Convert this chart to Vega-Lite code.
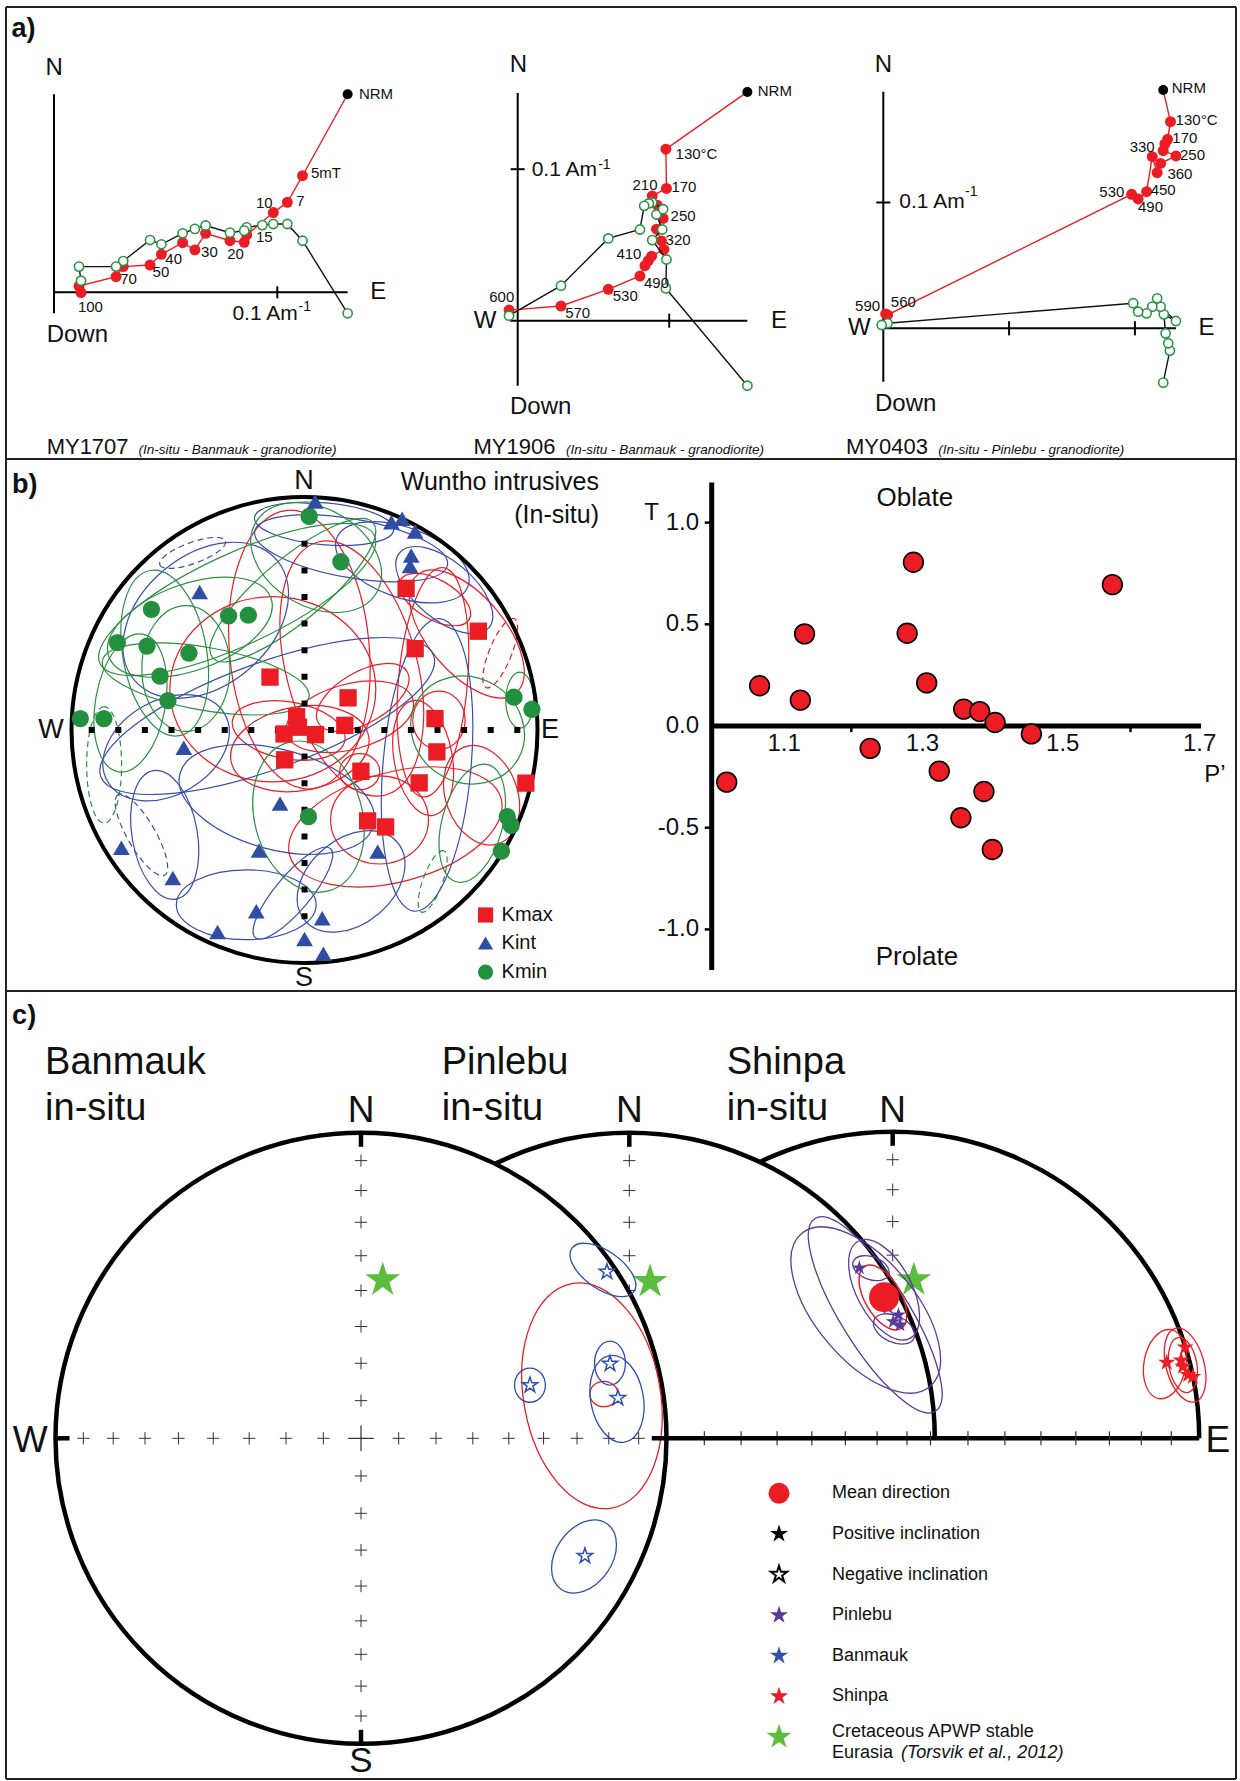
{
"$schema":"https://vega.github.io/schema/vega-lite/v6.json",
"padding":{"left":5,"top":6,"right":0,"bottom":0},
"spacing":0,
"bounds":"flush",
"config":{"view":{"stroke":null},"font":"Liberation Sans","text":{"color":"#111"}},
"datasets":{
"a1":[
{"c":"h","s":0,"x":0.1315,"y":0.0887},{"c":"h","s":1,"x":0.1113,"y":0.0522},{"c":"h","s":2,"x":0.1045,"y":0.0403},{"c":"h","s":3,"x":0.0982,"y":0.0357},{"c":"h","s":4,"x":0.0863,"y":0.0257},{"c":"h","s":5,"x":0.0852,"y":0.0224},{"c":"h","s":6,"x":0.0788,"y":0.0231},{"c":"h","s":7,"x":0.0679,"y":0.0264},{"c":"h","s":8,"x":0.0631,"y":0.0190},{"c":"h","s":9,"x":0.0576,"y":0.0222},{"c":"h","s":10,"x":0.0481,"y":0.0170},{"c":"h","s":11,"x":0.0430,"y":0.0122},{"c":"h","s":12,"x":0.0310,"y":0.0115},{"c":"h","s":13,"x":0.0278,"y":0.0070},{"c":"h","s":14,"x":0.0112,"y":0.0028},{"c":"h","s":15,"x":0.0121,"y":-0.0001},
{"c":"v","s":0,"x":0.1315,"y":-0.0094},{"c":"v","s":1,"x":0.1113,"y":0.0231},{"c":"v","s":2,"x":0.1045,"y":0.0306},{"c":"v","s":3,"x":0.0982,"y":0.0306},{"c":"v","s":4,"x":0.0933,"y":0.0301},{"c":"v","s":5,"x":0.0863,"y":0.0291},{"c":"v","s":6,"x":0.0852,"y":0.0276},{"c":"v","s":7,"x":0.0788,"y":0.0267},{"c":"v","s":8,"x":0.0679,"y":0.0299},{"c":"v","s":9,"x":0.0631,"y":0.0284},{"c":"v","s":10,"x":0.0576,"y":0.0264},{"c":"v","s":11,"x":0.0481,"y":0.0215},{"c":"v","s":12,"x":0.0430,"y":0.0234},{"c":"v","s":13,"x":0.0310,"y":0.0140},{"c":"v","s":14,"x":0.0278,"y":0.0115},{"c":"v","s":15,"x":0.0112,"y":0.0115},{"c":"v","s":16,"x":0.0121,"y":0.0052}
],
"a1t":[
{"k":"z","x":0.1442,"y":0.0887,"t":"NRM"},{"k":"z","x":0.1218,"y":0.0533,"t":"5mT"},{"k":"z","x":0.1103,"y":0.0410,"t":"7"},{"k":"z","x":0.0942,"y":0.0401,"t":"10"},{"k":"z","x":0.0942,"y":0.0246,"t":"15"},{"k":"z","x":0.0813,"y":0.0172,"t":"20"},{"k":"z","x":0.0696,"y":0.0179,"t":"30"},{"k":"z","x":0.0536,"y":0.0149,"t":"40"},{"k":"z","x":0.0479,"y":0.0093,"t":"50"},{"k":"z","x":0.0334,"y":0.0058,"t":"70"},{"k":"z","x":0.0163,"y":-0.0064,"t":"100"},
{"k":"ax","x":0.0001,"y":0.1003,"t":"N"},{"k":"ax","x":0.1452,"y":0,"t":"E"},{"k":"axl","x":-0.0033,"y":-0.0191,"t":"Down"},{"k":"unit","x":0.0799,"y":-0.0097,"t":"0.1 Am"},{"k":"sup","x":0.1095,"y":-0.0064,"t":"-1"},{"k":"cap","x":-0.0033,"y":-0.0691,"t":"MY1707"},{"k":"sub","x":0.0378,"y":-0.0706,"t":"(In-situ - Banmauk - granodiorite)"},{"k":"panel","x":-0.019,"y":0.1178,"t":"a)"}
],
"a2":[
{"c":"h","s":0,"x":0.1516,"y":0.1510},{"c":"h","s":1,"x":0.0978,"y":0.1132},{"c":"h","s":2,"x":0.0982,"y":0.0873},{"c":"h","s":3,"x":0.0888,"y":0.0824},{"c":"h","s":4,"x":0.0921,"y":0.0763},{"c":"h","s":5,"x":0.0960,"y":0.0675},{"c":"h","s":6,"x":0.0916,"y":0.0604},{"c":"h","s":7,"x":0.0949,"y":0.0527},{"c":"h","s":8,"x":0.0965,"y":0.0470},{"c":"h","s":9,"x":0.0884,"y":0.0426},{"c":"h","s":10,"x":0.0862,"y":0.0396},{"c":"h","s":11,"x":0.0840,"y":0.0363},{"c":"h","s":12,"x":0.0807,"y":0.0295},{"c":"h","s":13,"x":0.0598,"y":0.0207},{"c":"h","s":14,"x":0.0286,"y":0.0097},{"c":"h","s":15,"x":-0.0057,"y":0.0070},
{"c":"v","s":0,"x":0.1516,"y":-0.0429},{"c":"v","s":1,"x":0.0978,"y":0.0213},{"c":"v","s":2,"x":0.0982,"y":0.0404},{"c":"v","s":3,"x":0.0888,"y":0.0532},{"c":"v","s":4,"x":0.0954,"y":0.0602},{"c":"v","s":5,"x":0.0916,"y":0.0701},{"c":"v","s":6,"x":0.0960,"y":0.0736},{"c":"v","s":7,"x":0.0888,"y":0.0780},{"c":"v","s":8,"x":0.0866,"y":0.0774},{"c":"v","s":9,"x":0.0835,"y":0.0758},{"c":"v","s":10,"x":0.0807,"y":0.0602},{"c":"v","s":11,"x":0.0598,"y":0.0543},{"c":"v","s":12,"x":0.0286,"y":0.0231},{"c":"v","s":13,"x":-0.0057,"y":0.0033}
],
"a2t":[
{"k":"z","x":0.1697,"y":0.1516,"t":"NRM"},{"k":"z","x":0.1180,"y":0.1103,"t":"130°C"},{"k":"z","x":0.1097,"y":0.0884,"t":"170"},{"k":"z","x":0.0840,"y":0.0895,"t":"210"},{"k":"z","x":0.1092,"y":0.0690,"t":"250"},{"k":"z","x":0.1059,"y":0.0532,"t":"320"},{"k":"z","x":0.0734,"y":0.0437,"t":"410"},{"k":"z","x":0.0916,"y":0.0246,"t":"490"},{"k":"z","x":0.0710,"y":0.0165,"t":"530"},{"k":"z","x":0.0396,"y":0.0048,"t":"570"},{"k":"z","x":-0.0105,"y":0.0158,"t":"600"},
{"k":"ax","x":0.0004,"y":0.1686,"t":"N"},{"k":"ax","x":-0.0215,"y":0,"t":"W"},{"k":"ax","x":0.1725,"y":0,"t":"E"},{"k":"axl","x":-0.0051,"y":-0.0567,"t":"Down"},{"k":"unit","x":0.0092,"y":0.0998,"t":"0.1 Am"},{"k":"sup","x":0.0531,"y":0.1031,"t":"-1"},{"k":"cap","x":-0.0292,"y":-0.0831,"t":"MY1906"},{"k":"sub","x":0.0319,"y":-0.0853,"t":"(In-situ - Banmauk - granodiorite)"}
],
"a3":[
{"c":"h","s":0,"x":0.2225,"y":0.1894},{"c":"h","s":1,"x":0.2283,"y":0.1642},{"c":"h","s":2,"x":0.2260,"y":0.1502},{"c":"h","s":3,"x":0.2238,"y":0.1465},{"c":"h","s":4,"x":0.2225,"y":0.1412},{"c":"h","s":5,"x":0.2326,"y":0.1370},{"c":"h","s":6,"x":0.2204,"y":0.1311},{"c":"h","s":7,"x":0.2177,"y":0.1237},{"c":"h","s":8,"x":0.2138,"y":0.1364},{"c":"h","s":9,"x":0.2093,"y":0.1086},{"c":"h","s":10,"x":0.2026,"y":0.1028},{"c":"h","s":11,"x":0.1974,"y":0.1065},{"c":"h","s":12,"x":0.0034,"y":0.0106},{"c":"h","s":13,"x":0.0019,"y":0.0114},
{"c":"v","s":0,"x":0.2225,"y":-0.0432},{"c":"v","s":1,"x":0.2278,"y":-0.0177},{"c":"v","s":2,"x":0.2265,"y":-0.0119},{"c":"v","s":3,"x":0.2244,"y":-0.0040},{"c":"v","s":4,"x":0.2230,"y":0.0111},{"c":"v","s":5,"x":0.2326,"y":0.0058},{"c":"v","s":6,"x":0.2204,"y":0.0172},{"c":"v","s":7,"x":0.2177,"y":0.0238},{"c":"v","s":8,"x":0.2138,"y":0.0172},{"c":"v","s":9,"x":0.2093,"y":0.0119},{"c":"v","s":10,"x":0.2026,"y":0.0132},{"c":"v","s":11,"x":0.1987,"y":0.0199},{"c":"v","s":12,"x":0.0034,"y":0.0040},{"c":"v","s":13,"x":-0.0013,"y":0.0026}
],
"a3t":[
{"k":"z","x":0.2429,"y":0.1907,"t":"NRM"},{"k":"z","x":0.2490,"y":0.1656,"t":"130°C"},{"k":"z","x":0.2397,"y":0.1515,"t":"170"},{"k":"z","x":0.2058,"y":0.1444,"t":"330"},{"k":"z","x":0.2458,"y":0.1377,"t":"250"},{"k":"z","x":0.2358,"y":0.1224,"t":"360"},{"k":"z","x":0.2225,"y":0.1099,"t":"450"},{"k":"z","x":0.1817,"y":0.1086,"t":"530"},{"k":"z","x":0.2124,"y":0.0967,"t":"490"},{"k":"z","x":-0.0125,"y":0.0177,"t":"590"},{"k":"z","x":0.0159,"y":0.0212,"t":"560"},
{"k":"ax","x":0,"y":0.2093,"t":"N"},{"k":"ax","x":-0.0191,"y":0,"t":"W"},{"k":"ax","x":0.2570,"y":0,"t":"E"},{"k":"axl","x":-0.0066,"y":-0.0601,"t":"Down"},{"k":"unit","x":0.0127,"y":0.1001,"t":"0.1 Am"},{"k":"sup","x":0.0650,"y":0.1086,"t":"-1"},{"k":"cap","x":-0.0297,"y":-0.0940,"t":"MY0403"},{"k":"sub","x":0.0437,"y":-0.0967,"t":"(In-situ - Pinlebu - granodiorite)"}
],
"bEll":[
{"k":"Kmax","x":-0.022,"y":0.345,"a":0.6,"q":"0.5","ang":85,"up":false},
{"k":"Kmax","x":0.203,"y":0.264,"a":0.562,"q":"0.5","ang":75,"up":false},
{"k":"Kmax","x":-0.136,"y":0.175,"a":0.442,"q":"0.9","ang":0,"up":false},
{"k":"Kmax","x":0.551,"y":0.205,"a":0.494,"q":"0.3","ang":95,"up":false},
{"k":"Kmax","x":0.696,"y":0.412,"a":0.33,"q":"0.5","ang":50,"up":false},
{"k":"Kmax","x":0.195,"y":0.057,"a":0.28,"q":"0.5","ang":-15,"up":false},
{"k":"Kmax","x":-0.068,"y":-0.002,"a":0.245,"q":"0.5","ang":10,"up":false},
{"k":"Kmax","x":0.237,"y":-0.179,"a":0.086,"q":"0.9","ang":0,"up":false},
{"k":"Kmax","x":0.509,"y":-0.12,"a":0.25,"q":"0.5","ang":80,"up":false},
{"k":"Kmax","x":0.322,"y":-0.386,"a":0.21,"q":"0.9","ang":0,"up":false},
{"k":"Kmax","x":0.39,"y":-0.416,"a":0.47,"q":"0.5","ang":-15,"up":false},
{"k":"Kmax","x":0.76,"y":-0.28,"a":0.22,"q":"0.7","ang":70,"up":false},
{"k":"Kmax","x":0.577,"y":0.042,"a":0.125,"q":"0.9","ang":90,"up":false},
{"k":"Kmax","x":0.56,"y":0.56,"a":0.17,"q":"0.5","ang":30,"up":false},
{"k":"Kmax","x":0.25,"y":0.14,"a":0.22,"q":"0.5","ang":-30,"up":false},
{"k":"Kmax","x":-0.02,"y":-0.08,"a":0.3,"q":"0.6","ang":-10,"up":false},
{"k":"Kmax","x":0.84,"y":0.33,"a":0.16,"q":"0.3","ang":112,"up":true},
{"k":"Kint","x":0.42,"y":0.72,"a":0.3,"q":"0.5","ang":20,"up":false},
{"k":"Kint","x":0.2,"y":0.78,"a":0.42,"q":"0.3","ang":10,"up":false},
{"k":"Kint","x":-0.424,"y":0.471,"a":0.4,"q":"0.7","ang":-40,"up":false},
{"k":"Kint","x":-0.16,"y":0.06,"a":0.76,"q":"0.3","ang":-20,"up":false},
{"k":"Kint","x":-0.25,"y":-0.75,"a":0.3,"q":"0.5","ang":0,"up":false},
{"k":"Kint","x":-0.6,"y":-0.45,"a":0.28,"q":"0.5","ang":80,"up":false},
{"k":"Kint","x":-0.119,"y":-0.298,"a":0.43,"q":"0.5","ang":15,"up":false},
{"k":"Kint","x":0.2,"y":-0.65,"a":0.26,"q":"0.7","ang":-40,"up":false},
{"k":"Kint","x":0.526,"y":-0.15,"a":0.63,"q":"0.3","ang":95,"up":false},
{"k":"Kint","x":0.084,"y":0.885,"a":0.3,"q":"0.3","ang":5,"up":false},
{"k":"Kint","x":-0.594,"y":-0.076,"a":0.29,"q":"0.7","ang":-30,"up":false},
{"k":"Kint","x":-0.05,"y":-0.7,"a":0.25,"q":"0.3","ang":-50,"up":false},
{"k":"Kint","x":0.6,"y":0.6,"a":0.25,"q":"0.5","ang":40,"up":false},
{"k":"Kint","x":-0.48,"y":0.76,"a":0.15,"q":"0.3","ang":-20,"up":true},
{"k":"Kint","x":-0.7,"y":-0.45,"a":0.2,"q":"0.3","ang":60,"up":true},
{"k":"Kmin","x":-0.6,"y":0.33,"a":0.36,"q":"0.5","ang":80,"up":false},
{"k":"Kmin","x":-0.509,"y":0.264,"a":0.27,"q":"0.7","ang":90,"up":false},
{"k":"Kmin","x":-0.747,"y":0.116,"a":0.3,"q":"0.5","ang":100,"up":false},
{"k":"Kmin","x":-0.289,"y":0.56,"a":0.65,"q":"0.3","ang":-25,"up":false},
{"k":"Kmin","x":0.05,"y":0.74,"a":0.3,"q":"0.7","ang":30,"up":false},
{"k":"Kmin","x":-0.424,"y":0.219,"a":0.45,"q":"0.3","ang":10,"up":false},
{"k":"Kmin","x":0.017,"y":-0.372,"a":0.33,"q":"0.7","ang":75,"up":false},
{"k":"Kmin","x":0.7,"y":0.0,"a":0.25,"q":"0.9","ang":30,"up":false},
{"k":"Kmin","x":0.924,"y":0.128,"a":0.12,"q":"0.5","ang":90,"up":false},
{"k":"Kmin","x":0.72,"y":-0.4,"a":0.26,"q":"0.5","ang":105,"up":false},
{"k":"Kmin","x":-0.492,"y":0.441,"a":0.37,"q":"0.5","ang":-20,"up":false},
{"k":"Kmin","x":-0.05,"y":0.6,"a":0.45,"q":"0.3","ang":-40,"up":false},
{"k":"Kmin","x":-0.86,"y":-0.15,"a":0.25,"q":"0.3","ang":90,"up":true},
{"k":"Kmin","x":0.55,"y":-0.65,"a":0.14,"q":"0.3","ang":110,"up":true}
],
"bK":[
{"k":"Kmax","x":0.436,"y":0.608},{"k":"Kmax","x":0.746,"y":0.424},{"k":"Kmax","x":0.475,"y":0.349},{"k":"Kmax","x":-0.148,"y":0.227},{"k":"Kmax","x":0.187,"y":0.138},{"k":"Kmax","x":-0.034,"y":0.057},{"k":"Kmax","x":0.173,"y":0.02},{"k":"Kmax","x":0.56,"y":0.049},{"k":"Kmax","x":-0.088,"y":-0.017},{"k":"Kmax","x":0.047,"y":-0.02},{"k":"Kmax","x":-0.026,"y":0.012},{"k":"Kmax","x":0.568,"y":-0.094},{"k":"Kmax","x":-0.085,"y":-0.128},{"k":"Kmax","x":0.242,"y":-0.177},{"k":"Kmax","x":0.492,"y":-0.227},{"k":"Kmax","x":0.95,"y":-0.228},{"k":"Kmax","x":0.271,"y":-0.39},{"k":"Kmax","x":0.348,"y":-0.416},
{"k":"Kint","x":0.046,"y":0.981},{"k":"Kint","x":0.373,"y":0.892},{"k":"Kint","x":0.419,"y":0.907},{"k":"Kint","x":0.475,"y":0.852},{"k":"Kint","x":0.458,"y":0.749},{"k":"Kint","x":0.453,"y":0.704},{"k":"Kint","x":-0.45,"y":0.592},{"k":"Kint","x":-0.518,"y":-0.076},{"k":"Kint","x":-0.105,"y":-0.316},{"k":"Kint","x":-0.786,"y":-0.505},{"k":"Kint","x":-0.195,"y":-0.517},{"k":"Kint","x":0.314,"y":-0.522},{"k":"Kint","x":-0.565,"y":-0.635},{"k":"Kint","x":-0.207,"y":-0.778},{"k":"Kint","x":0.076,"y":-0.808},{"k":"Kint","x":-0.373,"y":-0.867},{"k":"Kint","x":0.0,"y":-0.897},{"k":"Kint","x":0.081,"y":-0.96},
{"k":"Kmin","x":0.02,"y":0.917},{"k":"Kmin","x":0.156,"y":0.722},{"k":"Kmin","x":-0.657,"y":0.518},{"k":"Kmin","x":-0.326,"y":0.49},{"k":"Kmin","x":-0.241,"y":0.493},{"k":"Kmin","x":-0.803,"y":0.375},{"k":"Kmin","x":-0.676,"y":0.36},{"k":"Kmin","x":-0.496,"y":0.33},{"k":"Kmin","x":-0.62,"y":0.231},{"k":"Kmin","x":-0.586,"y":0.126},{"k":"Kmin","x":-0.962,"y":0.049},{"k":"Kmin","x":-0.861,"y":0.049},{"k":"Kmin","x":0.899,"y":0.141},{"k":"Kmin","x":0.976,"y":0.089},{"k":"Kmin","x":0.017,"y":-0.372},{"k":"Kmin","x":0.87,"y":-0.372},{"k":"Kmin","x":0.887,"y":-0.409},{"k":"Kmin","x":0.845,"y":-0.52}
],
"bLeg":[{"k":"Kmax","x":0.777,"y":-0.794},{"k":"Kint","x":0.777,"y":-0.914},{"k":"Kmin","x":0.777,"y":-1.039}],
"tp":[
{"P":1.0215,"T":-0.276},{"P":1.0686,"T":0.198},{"P":1.127,"T":0.127},{"P":1.133,"T":0.453},{"P":1.227,"T":-0.11},{"P":1.28,"T":0.456},{"P":1.289,"T":0.805},{"P":1.308,"T":0.212},{"P":1.326,"T":-0.222},{"P":1.361,"T":0.083},{"P":1.357,"T":-0.451},{"P":1.384,"T":0.071},{"P":1.39,"T":-0.322},{"P":1.406,"T":0.017},{"P":1.402,"T":-0.607},{"P":1.458,"T":-0.039},{"P":1.574,"T":0.695}
],
"cNpl":[{"x":0,"y":0.1233},{"x":0,"y":0.2456},{"x":0,"y":0.366},{"x":0,"y":0.4837},{"x":0,"y":0.5976},{"x":0,"y":0.7071},{"x":0,"y":0.8111},{"x":0,"y":0.909}],
"cBpl":[
{"x":0,"y":0.1233},{"x":0,"y":0.2456},{"x":0,"y":0.366},{"x":0,"y":0.4837},{"x":0,"y":0.5976},{"x":0,"y":0.7071},{"x":0,"y":0.8111},{"x":0,"y":0.909},
{"x":0,"y":-0.1233},{"x":0,"y":-0.2456},{"x":0,"y":-0.366},{"x":0,"y":-0.4837},{"x":0,"y":-0.5976},{"x":0,"y":-0.7071},{"x":0,"y":-0.8111},{"x":0,"y":-0.909},
{"x":0.1233,"y":0},{"x":0.2456,"y":0},{"x":0.366,"y":0},{"x":0.4837,"y":0},{"x":0.5976,"y":0},{"x":0.7071,"y":0},{"x":0.8111,"y":0},{"x":0.909,"y":0},
{"x":-0.1233,"y":0},{"x":-0.2456,"y":0},{"x":-0.366,"y":0},{"x":-0.4837,"y":0},{"x":-0.5976,"y":0},{"x":-0.7071,"y":0},{"x":-0.8111,"y":0},{"x":-0.909,"y":0}
],
"cPEt":[{"x":0.2456,"y":0},{"x":0.366,"y":0},{"x":0.4837,"y":0},{"x":0.5976,"y":0},{"x":0.7071,"y":0},{"x":0.8111,"y":0},{"x":0.909,"y":0}],
"cSEt":[{"x":0.1233,"y":0},{"x":0.2456,"y":0},{"x":0.366,"y":0},{"x":0.4837,"y":0},{"x":0.5976,"y":0},{"x":0.7071,"y":0},{"x":0.8111,"y":0},{"x":0.909,"y":0}],
"cBell":[{"x":0.792,"y":0.551,"a":0.124,"q":"0.5","ang":35},{"x":0.553,"y":0.174,"a":0.056,"q":"0.9","ang":90},{"x":0.815,"y":0.246,"a":0.072,"q":"0.7","ang":90},{"x":0.838,"y":0.129,"a":0.144,"q":"0.6","ang":80},{"x":0.73,"y":-0.387,"a":0.131,"q":"0.7","ang":-55}],
"cBmell":[{"x":0.756,"y":0.139,"a":0.373,"q":"0.6","ang":80},{"x":0.795,"y":0.145,"a":0.046,"q":"0.9","ang":0}],
"cBst":[{"x":0.805,"y":0.545},{"x":0.553,"y":0.174},{"x":0.815,"y":0.244},{"x":0.841,"y":0.132},{"x":0.733,"y":-0.385}],
"cPell":[{"x":0.805,"y":0.404,"a":0.372,"q":"0.3","ang":58},{"x":0.774,"y":0.42,"a":0.327,"q":"0.5","ang":50},{"x":0.834,"y":0.486,"a":0.18,"q":"0.5","ang":62},{"x":0.867,"y":0.358,"a":0.072,"q":"0.6","ang":25},{"x":0.791,"y":0.557,"a":0.062,"q":"0.6","ang":20}],
"cPmell":[{"x":0.83,"y":0.461,"a":0.118,"q":"0.5","ang":60}],
"cPst":[{"x":0.753,"y":0.558},{"x":0.881,"y":0.404},{"x":0.864,"y":0.382},{"x":0.886,"y":0.371},{"x":0.847,"y":0.428}],
"cSell":[{"x":0.888,"y":0.242,"a":0.114,"q":"0.6","ang":100},{"x":0.954,"y":0.239,"a":0.124,"q":"0.5","ang":75},{"x":0.947,"y":0.239,"a":0.091,"q":"0.5","ang":80}],
"cSst":[{"x":0.954,"y":0.297},{"x":0.894,"y":0.247},{"x":0.941,"y":0.255},{"x":0.964,"y":0.207},{"x":0.979,"y":0.201},{"x":0.947,"y":0.234}],
"legText":[{"row":0,"t":"Mean direction"},{"row":1,"t":"Positive inclination"},{"row":2,"t":"Negative inclination"},{"row":3,"t":"Pinlebu"},{"row":4,"t":"Banmauk"},{"row":5,"t":"Shinpa"},{"row":5.87,"t":"Cretaceous APWP stable"},{"row":6.4,"t":"Eurasia"}],
"legStars":[{"row":1,"item":"Positive inclination"},{"row":3,"item":"Pinlebu"},{"row":4,"item":"Banmauk"},{"row":5,"item":"Shinpa"}]
},
"vconcat":[
{"width":1230,"height":452,
"resolve":{"scale":{"x":"independent","y":"independent"}},
"layer":[
{"encoding":{"x":{"field":"x","type":"quantitative","scale":{"domain":[-0.021496,0.529332],"nice":false,"zero":false},"axis":null},"y":{"field":"y","type":"quantitative","scale":{"domain":[-0.074653,0.127765],"nice":false,"zero":false},"axis":null}},
"layer":[
{"data":{"values":[{"x":-0.021496,"y":-0.074653,"x2":-0.021496,"y2":0.127765},{"x":-0.021496,"y":0.127765,"x2":0.529332,"y2":0.127765}]},"mark":{"type":"rule","color":"#222","strokeWidth":2},"encoding":{"x2":{"field":"x2"},"y2":{"field":"y2"}}},
{"data":{"values":[{"x":0,"y":-0.0094,"x2":0,"y2":0.0887},{"x":0,"y":0,"x2":0.1315,"y2":0},{"x":0.1,"y":-0.0027,"x2":0.1,"y2":0.0027}]},"mark":{"type":"rule","color":"#000","strokeWidth":2},"encoding":{"x2":{"field":"x2"},"y2":{"field":"y2"}}},
{"data":{"name":"a1"},"transform":[{"filter":"datum.c=='v'"}],"mark":{"type":"line","color":"#111","strokeWidth":1.4},"encoding":{"order":{"field":"s","type":"quantitative"}}},
{"data":{"name":"a1"},"transform":[{"filter":"datum.c=='h'"}],"mark":{"type":"line","color":"#EC1C24","strokeWidth":1.4},"encoding":{"order":{"field":"s","type":"quantitative"}}},
{"data":{"name":"a1"},"transform":[{"filter":"datum.c=='h' && datum.s>0"}],"mark":{"type":"point","shape":"circle","filled":true,"color":"#EC1C24","size":120,"opacity":1}},
{"data":{"name":"a1"},"transform":[{"filter":"datum.c=='h' && datum.s==0"}],"mark":{"type":"point","shape":"circle","filled":true,"color":"#000","size":100,"opacity":1}},
{"data":{"name":"a1"},"transform":[{"filter":"datum.c=='v'"}],"mark":{"type":"point","shape":"circle","filled":true,"fill":"#fff","stroke":"#2A9444","strokeWidth":1.6,"size":85,"opacity":1}},
{"data":{"name":"a1t"},"transform":[{"filter":"datum.k=='z'"}],"mark":{"type":"text","fontSize":15,"align":"center","baseline":"middle"},"encoding":{"text":{"field":"t"}}},
{"data":{"name":"a1t"},"transform":[{"filter":"datum.k=='ax'"}],"mark":{"type":"text","fontSize":24,"align":"center","baseline":"middle"},"encoding":{"text":{"field":"t"}}},
{"data":{"name":"a1t"},"transform":[{"filter":"datum.k=='axl'"}],"mark":{"type":"text","fontSize":24,"align":"left","baseline":"middle"},"encoding":{"text":{"field":"t"}}},
{"data":{"name":"a1t"},"transform":[{"filter":"datum.k=='unit'"}],"mark":{"type":"text","fontSize":21,"align":"left","baseline":"middle"},"encoding":{"text":{"field":"t"}}},
{"data":{"name":"a1t"},"transform":[{"filter":"datum.k=='sup'"}],"mark":{"type":"text","fontSize":14,"align":"left","baseline":"middle"},"encoding":{"text":{"field":"t"}}},
{"data":{"name":"a1t"},"transform":[{"filter":"datum.k=='cap'"}],"mark":{"type":"text","fontSize":22,"align":"left","baseline":"middle"},"encoding":{"text":{"field":"t"}}},
{"data":{"name":"a1t"},"transform":[{"filter":"datum.k=='sub'"}],"mark":{"type":"text","fontSize":13.5,"fontStyle":"italic","align":"left","baseline":"middle"},"encoding":{"text":{"field":"t"}}},
{"data":{"name":"a1t"},"transform":[{"filter":"datum.k=='panel'"}],"mark":{"type":"text","fontSize":27,"fontWeight":"bold","align":"left","baseline":"middle"},"encoding":{"text":{"field":"t"}}}
]},
{"encoding":{"x":{"field":"x","type":"quantitative","scale":{"domain":[-0.337756,0.474125],"nice":false,"zero":false},"axis":null},"y":{"field":"y","type":"quantitative","scale":{"domain":[-0.091287,0.207063],"nice":false,"zero":false},"axis":null}},
"layer":[
{"data":{"values":[{"x":0,"y":-0.0429,"x2":0,"y2":0.1503},{"x":-0.0051,"y":0,"x2":0.1516,"y2":0},{"x":0.1,"y":-0.0046,"x2":0.1,"y2":0.0046},{"x":-0.0046,"y":0.1,"x2":0.0046,"y2":0.1}]},"mark":{"type":"rule","color":"#000","strokeWidth":2},"encoding":{"x2":{"field":"x2"},"y2":{"field":"y2"}}},
{"data":{"name":"a2"},"transform":[{"filter":"datum.c=='h'"}],"mark":{"type":"line","color":"#EC1C24","strokeWidth":1.4},"encoding":{"order":{"field":"s","type":"quantitative"}}},
{"data":{"name":"a2"},"transform":[{"filter":"datum.c=='h' && datum.s>0"}],"mark":{"type":"point","shape":"circle","filled":true,"color":"#EC1C24","size":120,"opacity":1}},
{"data":{"name":"a2"},"transform":[{"filter":"datum.c=='h' && datum.s==0"}],"mark":{"type":"point","shape":"circle","filled":true,"color":"#000","size":100,"opacity":1}},
{"data":{"name":"a2"},"transform":[{"filter":"datum.c=='v'"}],"mark":{"type":"line","color":"#111","strokeWidth":1.4},"encoding":{"order":{"field":"s","type":"quantitative"}}},
{"data":{"name":"a2"},"transform":[{"filter":"datum.c=='v'"}],"mark":{"type":"point","shape":"circle","filled":true,"fill":"#fff","stroke":"#2A9444","strokeWidth":1.6,"size":85,"opacity":1}},
{"data":{"name":"a2t"},"transform":[{"filter":"datum.k=='z'"}],"mark":{"type":"text","fontSize":15,"align":"center","baseline":"middle"},"encoding":{"text":{"field":"t"}}},
{"data":{"name":"a2t"},"transform":[{"filter":"datum.k=='ax'"}],"mark":{"type":"text","fontSize":24,"align":"center","baseline":"middle"},"encoding":{"text":{"field":"t"}}},
{"data":{"name":"a2t"},"transform":[{"filter":"datum.k=='axl'"}],"mark":{"type":"text","fontSize":24,"align":"left","baseline":"middle"},"encoding":{"text":{"field":"t"}}},
{"data":{"name":"a2t"},"transform":[{"filter":"datum.k=='unit'"}],"mark":{"type":"text","fontSize":21,"align":"left","baseline":"middle"},"encoding":{"text":{"field":"t"}}},
{"data":{"name":"a2t"},"transform":[{"filter":"datum.k=='sup'"}],"mark":{"type":"text","fontSize":14,"align":"left","baseline":"middle"},"encoding":{"text":{"field":"t"}}},
{"data":{"name":"a2t"},"transform":[{"filter":"datum.k=='cap'"}],"mark":{"type":"text","fontSize":22,"align":"left","baseline":"middle"},"encoding":{"text":{"field":"t"}}},
{"data":{"name":"a2t"},"transform":[{"filter":"datum.k=='sub'"}],"mark":{"type":"text","fontSize":13.5,"fontStyle":"italic","align":"left","baseline":"middle"},"encoding":{"text":{"field":"t"}}}
]},
{"encoding":{"x":{"field":"x","type":"quantitative","scale":{"domain":[-0.697377,0.280366],"nice":false,"zero":false},"axis":null},"y":{"field":"y","type":"quantitative","scale":{"domain":[-0.103895,0.255405],"nice":false,"zero":false},"axis":null}},
"layer":[
{"data":{"values":[{"x":0.280366,"y":-0.103895,"x2":0.280366,"y2":0.255405}]},"mark":{"type":"rule","color":"#222","strokeWidth":2},"encoding":{"x2":{"field":"x2"},"y2":{"field":"y2"}}},
{"data":{"values":[{"x":0,"y":-0.0424,"x2":0,"y2":0.1881},{"x":0,"y":0,"x2":0.2326,"y2":0},{"x":0.1,"y":-0.0056,"x2":0.1,"y2":0.0056},{"x":0.2,"y":-0.0056,"x2":0.2,"y2":0.0056},{"x":-0.0056,"y":0.1,"x2":0.0056,"y2":0.1}]},"mark":{"type":"rule","color":"#000","strokeWidth":2},"encoding":{"x2":{"field":"x2"},"y2":{"field":"y2"}}},
{"data":{"name":"a3"},"transform":[{"filter":"datum.c=='h'"}],"mark":{"type":"line","color":"#EC1C24","strokeWidth":1.4},"encoding":{"order":{"field":"s","type":"quantitative"}}},
{"data":{"name":"a3"},"transform":[{"filter":"datum.c=='h' && datum.s>0"}],"mark":{"type":"point","shape":"circle","filled":true,"color":"#EC1C24","size":120,"opacity":1}},
{"data":{"name":"a3"},"transform":[{"filter":"datum.c=='h' && datum.s==0"}],"mark":{"type":"point","shape":"circle","filled":true,"color":"#000","size":100,"opacity":1}},
{"data":{"name":"a3"},"transform":[{"filter":"datum.c=='v'"}],"mark":{"type":"line","color":"#111","strokeWidth":1.4},"encoding":{"order":{"field":"s","type":"quantitative"}}},
{"data":{"name":"a3"},"transform":[{"filter":"datum.c=='v'"}],"mark":{"type":"point","shape":"circle","filled":true,"fill":"#fff","stroke":"#2A9444","strokeWidth":1.6,"size":85,"opacity":1}},
{"data":{"name":"a3t"},"transform":[{"filter":"datum.k=='z'"}],"mark":{"type":"text","fontSize":15,"align":"center","baseline":"middle"},"encoding":{"text":{"field":"t"}}},
{"data":{"name":"a3t"},"transform":[{"filter":"datum.k=='ax'"}],"mark":{"type":"text","fontSize":24,"align":"center","baseline":"middle"},"encoding":{"text":{"field":"t"}}},
{"data":{"name":"a3t"},"transform":[{"filter":"datum.k=='axl'"}],"mark":{"type":"text","fontSize":24,"align":"left","baseline":"middle"},"encoding":{"text":{"field":"t"}}},
{"data":{"name":"a3t"},"transform":[{"filter":"datum.k=='unit'"}],"mark":{"type":"text","fontSize":21,"align":"left","baseline":"middle"},"encoding":{"text":{"field":"t"}}},
{"data":{"name":"a3t"},"transform":[{"filter":"datum.k=='sup'"}],"mark":{"type":"text","fontSize":14,"align":"left","baseline":"middle"},"encoding":{"text":{"field":"t"}}},
{"data":{"name":"a3t"},"transform":[{"filter":"datum.k=='cap'"}],"mark":{"type":"text","fontSize":22,"align":"left","baseline":"middle"},"encoding":{"text":{"field":"t"}}},
{"data":{"name":"a3t"},"transform":[{"filter":"datum.k=='sub'"}],"mark":{"type":"text","fontSize":13.5,"fontStyle":"italic","align":"left","baseline":"middle"},"encoding":{"text":{"field":"t"}}}
]}
]},
{"width":1230,"height":532,
"resolve":{"scale":{"x":"independent","y":"independent","size":"independent","shape":"independent","angle":"independent","color":"independent"}},
"layer":[
{"encoding":{"x":{"field":"x","type":"quantitative","scale":{"domain":[-1.28112,3.99776],"nice":false,"zero":false},"axis":null},"y":{"field":"y","type":"quantitative","scale":{"domain":[-1.12017,1.16309],"nice":false,"zero":false},"axis":null}},
"layer":[
{"data":{"name":"bEll"},"transform":[{"filter":"!datum.up"}],"mark":{"type":"point","filled":false,"strokeWidth":1.2,"opacity":1},"encoding":{
 "color":{"field":"k","type":"nominal","scale":{"domain":["Kmax","Kint","Kmin"],"range":["#EC1C24","#3A4DAA","#2B8F3F"]},"legend":null},
 "shape":{"field":"q","type":"nominal","scale":{"domain":["0.3","0.5","0.6","0.7","0.9"],"range":["M-1,0A1,0.3 0 1,0 1,0A1,0.3 0 1,0 -1,0Z","M-1,0A1,0.5 0 1,0 1,0A1,0.5 0 1,0 -1,0Z","M-1,0A1,0.6 0 1,0 1,0A1,0.6 0 1,0 -1,0Z","M-1,0A1,0.7 0 1,0 1,0A1,0.7 0 1,0 -1,0Z","M-1,0A1,0.9 0 1,0 1,0A1,0.9 0 1,0 -1,0Z"]},"legend":null},
 "size":{"field":"a","type":"quantitative","scale":{"type":"pow","exponent":2,"domain":[0,1],"range":[0,217156]},"legend":null},
 "angle":{"field":"ang","type":"quantitative","scale":{"domain":[-180,180],"range":[-180,180]},"legend":null}}},
{"data":{"name":"bEll"},"transform":[{"filter":"datum.up"}],"mark":{"type":"point","filled":false,"strokeWidth":1.2,"strokeDash":[6,4],"opacity":1},"encoding":{
 "color":{"field":"k","type":"nominal","scale":{"domain":["Kmax","Kint","Kmin"],"range":["#EC1C24","#3A4DAA","#2B8F3F"]},"legend":null},
 "shape":{"field":"q","type":"nominal","scale":{"domain":["0.3","0.5","0.6","0.7","0.9"],"range":["M-1,0A1,0.3 0 1,0 1,0A1,0.3 0 1,0 -1,0Z","M-1,0A1,0.5 0 1,0 1,0A1,0.5 0 1,0 -1,0Z","M-1,0A1,0.6 0 1,0 1,0A1,0.6 0 1,0 -1,0Z","M-1,0A1,0.7 0 1,0 1,0A1,0.7 0 1,0 -1,0Z","M-1,0A1,0.9 0 1,0 1,0A1,0.9 0 1,0 -1,0Z"]},"legend":null},
 "size":{"field":"a","type":"quantitative","scale":{"type":"pow","exponent":2,"domain":[0,1],"range":[0,217156]},"legend":null},
 "angle":{"field":"ang","type":"quantitative","scale":{"domain":[-180,180],"range":[-180,180]},"legend":null}}},
{"data":{"values":[{"x":0,"y":0}]},"mark":{"type":"point","shape":"circle","filled":false,"color":"#000","strokeWidth":4,"size":217156,"opacity":1}},
{"data":{"values":[{"x":-1,"y":0,"x2":1,"y2":0},{"x":0,"y":-1,"x2":0,"y2":1}]},"mark":{"type":"rule","color":"#000","strokeWidth":6,"strokeDash":[6,20.6],"strokeDashOffset":9.4},"encoding":{"x2":{"field":"x2"},"y2":{"field":"y2"}}},
{"data":{"name":"bK"},"transform":[{"filter":"datum.k=='Kmin'"}],"mark":{"type":"point","shape":"circle","filled":true,"color":"#239040","size":300,"opacity":1}},
{"data":{"name":"bK"},"transform":[{"filter":"datum.k=='Kint'"}],"mark":{"type":"point","shape":"triangle-up","filled":true,"color":"#2F4DA3","size":280,"opacity":1}},
{"data":{"name":"bK"},"transform":[{"filter":"datum.k=='Kmax'"}],"mark":{"type":"point","shape":"square","filled":true,"color":"#EC1C24","size":300,"opacity":1}},
{"data":{"values":[{"x":-0.002,"y":1.069,"t":"N"},{"x":-0.002,"y":-1.064,"t":"S"},{"x":-1.088,"y":0,"t":"W"},{"x":1.054,"y":0,"t":"E"}]},"mark":{"type":"text","fontSize":27,"align":"center","baseline":"middle"},"encoding":{"text":{"field":"t"}}},
{"data":{"values":[{"x":1.264,"y":1.064,"t":"Wuntho intrusives"},{"x":1.264,"y":0.923,"t":"(In-situ)"}]},"mark":{"type":"text","fontSize":25,"align":"right","baseline":"middle"},"encoding":{"text":{"field":"t"}}},
{"data":{"values":[{"x":-1.255,"y":1.052,"t":"b)"}]},"mark":{"type":"text","fontSize":27,"fontWeight":"bold","align":"left","baseline":"middle"},"encoding":{"text":{"field":"t"}}},
{"data":{"name":"bLeg"},"transform":[{"filter":"datum.k=='Kmax'"}],"mark":{"type":"point","shape":"square","filled":true,"color":"#EC1C24","size":230,"opacity":1}},
{"data":{"name":"bLeg"},"transform":[{"filter":"datum.k=='Kint'"}],"mark":{"type":"point","shape":"triangle-up","filled":true,"color":"#2F4DA3","size":230,"opacity":1}},
{"data":{"name":"bLeg"},"transform":[{"filter":"datum.k=='Kmin'"}],"mark":{"type":"point","shape":"circle","filled":true,"color":"#239040","size":230,"opacity":1}},
{"data":{"name":"bLeg"},"mark":{"type":"text","fontSize":20,"align":"left","baseline":"middle","dx":16},"encoding":{"text":{"field":"k"}}},
{"data":{"values":[{"x":-1.28112,"y":-1.12017,"x2":-1.28112,"y2":1.16309},{"x":-1.28112,"y":1.16309,"x2":3.99776,"y2":1.16309}]},"mark":{"type":"rule","color":"#222","strokeWidth":2},"encoding":{"x2":{"field":"x2"},"y2":{"field":"y2"}}}
]},
{"encoding":{"x":{"field":"P","type":"quantitative","scale":{"domain":[-0.011032,1.751146],"nice":false,"zero":false},"axis":null},"y":{"field":"T","type":"quantitative","scale":{"domain":[-1.30285,1.31268],"nice":false,"zero":false},"axis":null}},
"layer":[
{"data":{"values":[{"P":1.751146,"T":-1.30285,"P2":1.751146,"T2":1.31268}]},"mark":{"type":"rule","color":"#222","strokeWidth":2},"encoding":{"x2":{"field":"P2"},"y2":{"field":"T2"}}},
{"data":{"values":[{"P":1,"T":-1.199,"P2":1,"T2":1.197},{"P":1,"T":0,"P2":1.701,"T2":0}]},"mark":{"type":"rule","color":"#000","strokeWidth":5},"encoding":{"x2":{"field":"P2"},"y2":{"field":"T2"}}},
{"data":{"values":[{"P":0.99,"T":1,"P2":1,"T2":1},{"P":0.99,"T":0.5,"P2":1,"T2":0.5},{"P":0.99,"T":-0.5,"P2":1,"T2":-0.5},{"P":0.99,"T":-1,"P2":1,"T2":-1},{"P":1.2,"T":0,"P2":1.2,"T2":-0.03},{"P":1.4,"T":0,"P2":1.4,"T2":-0.03},{"P":1.6,"T":0,"P2":1.6,"T2":-0.03}]},"mark":{"type":"rule","color":"#000","strokeWidth":2.5},"encoding":{"x2":{"field":"P2"},"y2":{"field":"T2"}}},
{"data":{"name":"tp"},"mark":{"type":"point","shape":"circle","filled":true,"fill":"#EC1C24","stroke":"#000","strokeWidth":1.6,"size":390,"opacity":1}},
{"data":{"values":[{"P":0.982,"T":1,"t":"1.0"},{"P":0.982,"T":0.5,"t":"0.5"},{"P":0.982,"T":0,"t":"0.0"},{"P":0.982,"T":-0.5,"t":"-0.5"},{"P":0.982,"T":-1,"t":"-1.0"}]},"mark":{"type":"text","fontSize":24,"align":"right","baseline":"middle"},"encoding":{"text":{"field":"t"}}},
{"data":{"values":[{"P":1.1037,"T":-0.09,"t":"1.1"},{"P":1.302,"T":-0.09,"t":"1.3"},{"P":1.503,"T":-0.09,"t":"1.5"},{"P":1.699,"T":-0.09,"t":"1.7"},{"P":0.914,"T":1.045,"t":"T"},{"P":1.721,"T":-0.241,"t":"P’"}]},"mark":{"type":"text","fontSize":24,"align":"center","baseline":"middle"},"encoding":{"text":{"field":"t"}}},
{"data":{"values":[{"P":1.291,"T":1.1225,"t":"Oblate"},{"P":1.294,"T":-1.1357,"t":"Prolate"}]},"mark":{"type":"text","fontSize":26,"align":"center","baseline":"middle"},"encoding":{"text":{"field":"t"}}}
]}
]},
{"width":1230,"height":788,
"resolve":{"scale":{"x":"independent","y":"independent","size":"independent","shape":"independent","angle":"independent","color":"independent"}},
"layer":[
{"encoding":{"x":{"field":"x","type":"quantitative","scale":{"domain":[-2.89299,1.12007],"nice":false,"zero":false},"axis":null},"y":{"field":"y","type":"quantitative","scale":{"domain":[-1.11158,1.45938],"nice":false,"zero":false},"axis":null}},
"layer":[
{"data":{"values":[{"x":0,"y":0}]},"mark":{"type":"point","shape":"M-1,0A1,1 0 0,1 1,0","size":375769,"filled":true,"fill":"#fff","stroke":"#000","strokeWidth":4.5,"opacity":1}},
{"data":{"name":"cNpl"},"mark":{"type":"point","shape":"M-1,0L1,0M0,-1L0,1","size":150,"filled":false,"color":"#333","strokeWidth":1,"opacity":1}},
{"data":{"values":[{"x":0,"y":1}]},"mark":{"type":"point","shape":"M0,0L0,1","size":784,"filled":false,"color":"#000","strokeWidth":4.5,"opacity":1}},
{"data":{"name":"cSell"},"mark":{"type":"point","filled":false,"color":"#EC1C24","strokeWidth":1.3,"opacity":1},"encoding":{
 "shape":{"field":"q","type":"nominal","scale":{"domain":["0.3","0.5","0.6","0.7","0.9"],"range":["M-1,0A1,0.3 0 1,0 1,0A1,0.3 0 1,0 -1,0Z","M-1,0A1,0.5 0 1,0 1,0A1,0.5 0 1,0 -1,0Z","M-1,0A1,0.6 0 1,0 1,0A1,0.6 0 1,0 -1,0Z","M-1,0A1,0.7 0 1,0 1,0A1,0.7 0 1,0 -1,0Z","M-1,0A1,0.9 0 1,0 1,0A1,0.9 0 1,0 -1,0Z"]},"legend":null},
 "size":{"field":"a","type":"quantitative","scale":{"type":"pow","exponent":2,"domain":[0,1],"range":[0,375769]},"legend":null},
 "angle":{"field":"ang","type":"quantitative","scale":{"domain":[-180,180],"range":[-180,180]},"legend":null}}},
{"data":{"name":"cSst"},"mark":{"type":"point","shape":"M0,-1L0.2245,-0.309L0.951,-0.309L0.3633,0.118L0.588,0.809L0,0.382L-0.588,0.809L-0.3633,0.118L-0.951,-0.309L-0.2245,-0.309Z","filled":true,"color":"#EC1C24","size":320,"opacity":1}},
{"data":{"values":[{"x":0.069,"y":0.517}]},"mark":{"type":"point","shape":"M0,-1L0.2245,-0.309L0.951,-0.309L0.3633,0.118L0.588,0.809L0,0.382L-0.588,0.809L-0.3633,0.118L-0.951,-0.309L-0.2245,-0.309Z","filled":true,"color":"#5CBC3C","size":1350,"opacity":1}},
{"data":{"values":[{"x":-0.5416,"y":1.1876,"t":"Shinpa"},{"x":-0.5416,"y":1.0385,"t":"in-situ"}]},"mark":{"type":"text","fontSize":38,"align":"left","baseline":"alphabetic"},"encoding":{"text":{"field":"t"}}},
{"data":{"values":[{"x":0,"y":1.033,"t":"N"}]},"mark":{"type":"text","fontSize":37,"align":"center","baseline":"alphabetic"},"encoding":{"text":{"field":"t"}}}
]},
{"encoding":{"x":{"field":"x","type":"quantitative","scale":{"domain":[-2.04026,1.98592],"nice":false,"zero":false},"axis":null},"y":{"field":"y","type":"quantitative","scale":{"domain":[-1.11522,1.46416],"nice":false,"zero":false},"axis":null}},
"layer":[
{"data":{"values":[{"x":0,"y":0}]},"mark":{"type":"point","shape":"M-1,0A1,1 0 0,1 1,0","size":373321,"filled":true,"fill":"#fff","stroke":"#000","strokeWidth":4.5,"opacity":1}},
{"data":{"name":"cNpl"},"mark":{"type":"point","shape":"M-1,0L1,0M0,-1L0,1","size":150,"filled":false,"color":"#333","strokeWidth":1,"opacity":1}},
{"data":{"values":[{"x":0,"y":1}]},"mark":{"type":"point","shape":"M0,0L0,1","size":784,"filled":false,"color":"#000","strokeWidth":4.5,"opacity":1}},
{"data":{"name":"cPell"},"mark":{"type":"point","filled":false,"color":"#5B3A9A","strokeWidth":1.3,"opacity":1},"encoding":{
 "shape":{"field":"q","type":"nominal","scale":{"domain":["0.3","0.5","0.6","0.7","0.9"],"range":["M-1,0A1,0.3 0 1,0 1,0A1,0.3 0 1,0 -1,0Z","M-1,0A1,0.5 0 1,0 1,0A1,0.5 0 1,0 -1,0Z","M-1,0A1,0.6 0 1,0 1,0A1,0.6 0 1,0 -1,0Z","M-1,0A1,0.7 0 1,0 1,0A1,0.7 0 1,0 -1,0Z","M-1,0A1,0.9 0 1,0 1,0A1,0.9 0 1,0 -1,0Z"]},"legend":null},
 "size":{"field":"a","type":"quantitative","scale":{"type":"pow","exponent":2,"domain":[0,1],"range":[0,373321]},"legend":null},
 "angle":{"field":"ang","type":"quantitative","scale":{"domain":[-180,180],"range":[-180,180]},"legend":null}}},
{"data":{"name":"cPmell"},"mark":{"type":"point","filled":false,"color":"#EC1C24","strokeWidth":1.5,"opacity":1},"encoding":{
 "shape":{"field":"q","type":"nominal","scale":{"domain":["0.3","0.5","0.6","0.7","0.9"],"range":["M-1,0A1,0.3 0 1,0 1,0A1,0.3 0 1,0 -1,0Z","M-1,0A1,0.5 0 1,0 1,0A1,0.5 0 1,0 -1,0Z","M-1,0A1,0.6 0 1,0 1,0A1,0.6 0 1,0 -1,0Z","M-1,0A1,0.7 0 1,0 1,0A1,0.7 0 1,0 -1,0Z","M-1,0A1,0.9 0 1,0 1,0A1,0.9 0 1,0 -1,0Z"]},"legend":null},
 "size":{"field":"a","type":"quantitative","scale":{"type":"pow","exponent":2,"domain":[0,1],"range":[0,373321]},"legend":null},
 "angle":{"field":"ang","type":"quantitative","scale":{"domain":[-180,180],"range":[-180,180]},"legend":null}}},
{"data":{"name":"cPst"},"mark":{"type":"point","shape":"M0,-1L0.2245,-0.309L0.951,-0.309L0.3633,0.118L0.588,0.809L0,0.382L-0.588,0.809L-0.3633,0.118L-0.951,-0.309L-0.2245,-0.309Z","filled":true,"color":"#5B3A9A","size":250,"opacity":1}},
{"data":{"values":[{"x":0.834,"y":0.462}]},"mark":{"type":"point","shape":"circle","filled":true,"color":"#EC1C24","size":900,"opacity":1}},
{"data":{"values":[{"x":0.068,"y":0.513}]},"mark":{"type":"point","shape":"M0,-1L0.2245,-0.309L0.951,-0.309L0.3633,0.118L0.588,0.809L0,0.382L-0.588,0.809L-0.3633,0.118L-0.951,-0.309L-0.2245,-0.309Z","filled":true,"color":"#5CBC3C","size":1350,"opacity":1}},
{"data":{"values":[{"x":-0.614,"y":1.1915,"t":"Pinlebu"},{"x":-0.614,"y":1.0419,"t":"in-situ"}]},"mark":{"type":"text","fontSize":38,"align":"left","baseline":"alphabetic"},"encoding":{"text":{"field":"t"}}},
{"data":{"values":[{"x":0,"y":1.0363,"t":"N"}]},"mark":{"type":"text","fontSize":37,"align":"center","baseline":"alphabetic"},"encoding":{"text":{"field":"t"}}}
]},
{"encoding":{"x":{"field":"x","type":"quantitative","scale":{"domain":[-1.16203,2.86416],"nice":false,"zero":false},"axis":null},"y":{"field":"y","type":"quantitative","scale":{"domain":[-1.11522,1.46416],"nice":false,"zero":false},"axis":null}},
"layer":[
{"data":{"values":[{"x":0,"y":0}]},"mark":{"type":"point","shape":"circle","size":373321,"filled":true,"fill":"#fff","stroke":"#000","strokeWidth":4.5,"opacity":1}},
{"data":{"name":"cBpl"},"mark":{"type":"point","shape":"M-1,0L1,0M0,-1L0,1","size":150,"filled":false,"color":"#333","strokeWidth":1,"opacity":1}},
{"data":{"values":[{"x":0,"y":0}]},"mark":{"type":"point","shape":"M-1,0L1,0M0,-1L0,1","size":650,"filled":false,"color":"#333","strokeWidth":1.2,"opacity":1}},
{"data":{"values":[{"x":0,"y":1}]},"mark":{"type":"point","shape":"M0,0L0,1","size":784,"filled":false,"color":"#000","strokeWidth":4.5,"opacity":1}},
{"data":{"values":[{"x":0,"y":-1}]},"mark":{"type":"point","shape":"M0,0L0,-1","size":784,"filled":false,"color":"#000","strokeWidth":4.5,"opacity":1}},
{"data":{"values":[{"x":-1,"y":0}]},"mark":{"type":"point","shape":"M0,0L1,0","size":784,"filled":false,"color":"#000","strokeWidth":4.5,"opacity":1}},
{"data":{"name":"cBmell"},"mark":{"type":"point","filled":false,"color":"#EC1C24","strokeWidth":1.3,"opacity":1},"encoding":{
 "shape":{"field":"q","type":"nominal","scale":{"domain":["0.3","0.5","0.6","0.7","0.9"],"range":["M-1,0A1,0.3 0 1,0 1,0A1,0.3 0 1,0 -1,0Z","M-1,0A1,0.5 0 1,0 1,0A1,0.5 0 1,0 -1,0Z","M-1,0A1,0.6 0 1,0 1,0A1,0.6 0 1,0 -1,0Z","M-1,0A1,0.7 0 1,0 1,0A1,0.7 0 1,0 -1,0Z","M-1,0A1,0.9 0 1,0 1,0A1,0.9 0 1,0 -1,0Z"]},"legend":null},
 "size":{"field":"a","type":"quantitative","scale":{"type":"pow","exponent":2,"domain":[0,1],"range":[0,373321]},"legend":null},
 "angle":{"field":"ang","type":"quantitative","scale":{"domain":[-180,180],"range":[-180,180]},"legend":null}}},
{"data":{"name":"cBell"},"mark":{"type":"point","filled":false,"color":"#2D4FAE","strokeWidth":1.3,"opacity":1},"encoding":{
 "shape":{"field":"q","type":"nominal","scale":{"domain":["0.3","0.5","0.6","0.7","0.9"],"range":["M-1,0A1,0.3 0 1,0 1,0A1,0.3 0 1,0 -1,0Z","M-1,0A1,0.5 0 1,0 1,0A1,0.5 0 1,0 -1,0Z","M-1,0A1,0.6 0 1,0 1,0A1,0.6 0 1,0 -1,0Z","M-1,0A1,0.7 0 1,0 1,0A1,0.7 0 1,0 -1,0Z","M-1,0A1,0.9 0 1,0 1,0A1,0.9 0 1,0 -1,0Z"]},"legend":null},
 "size":{"field":"a","type":"quantitative","scale":{"type":"pow","exponent":2,"domain":[0,1],"range":[0,373321]},"legend":null},
 "angle":{"field":"ang","type":"quantitative","scale":{"domain":[-180,180],"range":[-180,180]},"legend":null}}},
{"data":{"name":"cBst"},"mark":{"type":"point","shape":"M0,-1L0.2245,-0.309L0.951,-0.309L0.3633,0.118L0.588,0.809L0,0.382L-0.588,0.809L-0.3633,0.118L-0.951,-0.309L-0.2245,-0.309Z","filled":true,"fill":"#fff","stroke":"#2D4FAE","strokeWidth":1.5,"size":260,"opacity":1}},
{"data":{"values":[{"x":0.071,"y":0.518}]},"mark":{"type":"point","shape":"M0,-1L0.2245,-0.309L0.951,-0.309L0.3633,0.118L0.588,0.809L0,0.382L-0.588,0.809L-0.3633,0.118L-0.951,-0.309L-0.2245,-0.309Z","filled":true,"color":"#5CBC3C","size":1350,"opacity":1}},
{"data":{"values":[{"x":-1.034,"y":1.1915,"t":"Banmauk"},{"x":-1.034,"y":1.0419,"t":"in-situ"}]},"mark":{"type":"text","fontSize":38,"align":"left","baseline":"alphabetic"},"encoding":{"text":{"field":"t"}}},
{"data":{"values":[{"x":0,"y":1.0363,"t":"N"},{"x":-1.0831,"y":-0.0439,"t":"W"}]},"mark":{"type":"text","fontSize":37,"align":"center","baseline":"alphabetic"},"encoding":{"text":{"field":"t"}}},
{"data":{"values":[{"x":0,"y":-1.093,"t":"S"}]},"mark":{"type":"text","fontSize":35,"align":"center","baseline":"alphabetic"},"encoding":{"text":{"field":"t"}}},
{"data":{"values":[{"x":-1.142,"y":1.383,"t":"c)"}]},"mark":{"type":"text","fontSize":27,"fontWeight":"bold","align":"left","baseline":"middle"},"encoding":{"text":{"field":"t"}}},
{"data":{"values":[{"x":-1.16203,"y":-1.11522,"x2":-1.16203,"y2":1.46416},{"x":-1.16203,"y":1.46416,"x2":2.86416,"y2":1.46416},{"x":2.86416,"y":-1.11522,"x2":2.86416,"y2":1.46416},{"x":-1.16203,"y":-1.11522,"x2":2.86416,"y2":-1.11522}]},"mark":{"type":"rule","color":"#222","strokeWidth":2},"encoding":{"x2":{"field":"x2"},"y2":{"field":"y2"}}}
]},
{"encoding":{"x":{"field":"x","type":"quantitative","scale":{"domain":[-2.04026,1.98592],"nice":false,"zero":false},"axis":null},"y":{"field":"y","type":"quantitative","scale":{"domain":[-1.11522,1.46416],"nice":false,"zero":false},"axis":null}},
"layer":[
{"data":{"name":"cPEt"},"mark":{"type":"point","shape":"M0,-1L0,1","size":196,"filled":false,"color":"#333","strokeWidth":1.2,"opacity":1}}
]},
{"encoding":{"x":{"field":"x","type":"quantitative","scale":{"domain":[-2.89299,1.12007],"nice":false,"zero":false},"axis":null},"y":{"field":"y","type":"quantitative","scale":{"domain":[-1.11158,1.45938],"nice":false,"zero":false},"axis":null}},
"layer":[
{"data":{"values":[{"x":-0.786,"y":0,"x2":1.0,"y2":0}]},"mark":{"type":"rule","color":"#000","strokeWidth":4.5},"encoding":{"x2":{"field":"x2"},"y2":{"field":"y2"}}},
{"data":{"name":"cSEt"},"mark":{"type":"point","shape":"M0,-1L0,1","size":196,"filled":false,"color":"#333","strokeWidth":1.2,"opacity":1}},
{"data":{"values":[{"x":1.061,"y":-0.0437,"t":"E"}]},"mark":{"type":"text","fontSize":37,"align":"center","baseline":"alphabetic"},"encoding":{"text":{"field":"t"}}}
]},
{"encoding":{"x":{"datum":0,"type":"quantitative","scale":{"domain":[-7.73,4.57],"nice":false,"zero":false},"axis":null},"y":{"field":"row","type":"quantitative","scale":{"domain":[-12.3719,7.0369],"reverse":true,"nice":false,"zero":false},"axis":null}},
"layer":[
{"data":{"values":[{"row":0}]},"mark":{"type":"point","shape":"circle","filled":true,"color":"#EC1C24","size":441,"opacity":1}},
{"data":{"name":"legStars"},"mark":{"type":"point","shape":"M0,-1L0.2245,-0.309L0.951,-0.309L0.3633,0.118L0.588,0.809L0,0.382L-0.588,0.809L-0.3633,0.118L-0.951,-0.309L-0.2245,-0.309Z","filled":true,"size":360,"opacity":1},"encoding":{"color":{"field":"item","type":"nominal","scale":{"domain":["Positive inclination","Pinlebu","Banmauk","Shinpa"],"range":["#000000","#5B3A9A","#2D4FAE","#EC1C24"]},"legend":null}}},
{"data":{"values":[{"row":2}]},"mark":{"type":"point","shape":"M0,-1L0.2245,-0.309L0.951,-0.309L0.3633,0.118L0.588,0.809L0,0.382L-0.588,0.809L-0.3633,0.118L-0.951,-0.309L-0.2245,-0.309Z","filled":true,"fill":"#fff","stroke":"#000","strokeWidth":2,"size":300,"opacity":1}},
{"data":{"values":[{"row":6}]},"mark":{"type":"point","shape":"M0,-1L0.2245,-0.309L0.951,-0.309L0.3633,0.118L0.588,0.809L0,0.382L-0.588,0.809L-0.3633,0.118L-0.951,-0.309L-0.2245,-0.309Z","filled":true,"color":"#5CBC3C","size":680,"opacity":1}},
{"data":{"name":"legText"},"mark":{"type":"text","fontSize":18,"align":"left","baseline":"middle","dx":53},"encoding":{"text":{"field":"t"}}},
{"data":{"values":[{"row":6.4,"t":"(Torsvik et al., 2012)"}]},"mark":{"type":"text","fontSize":18,"fontStyle":"italic","align":"left","baseline":"middle","dx":122},"encoding":{"text":{"field":"t"}}}
]}
]}
]
}
